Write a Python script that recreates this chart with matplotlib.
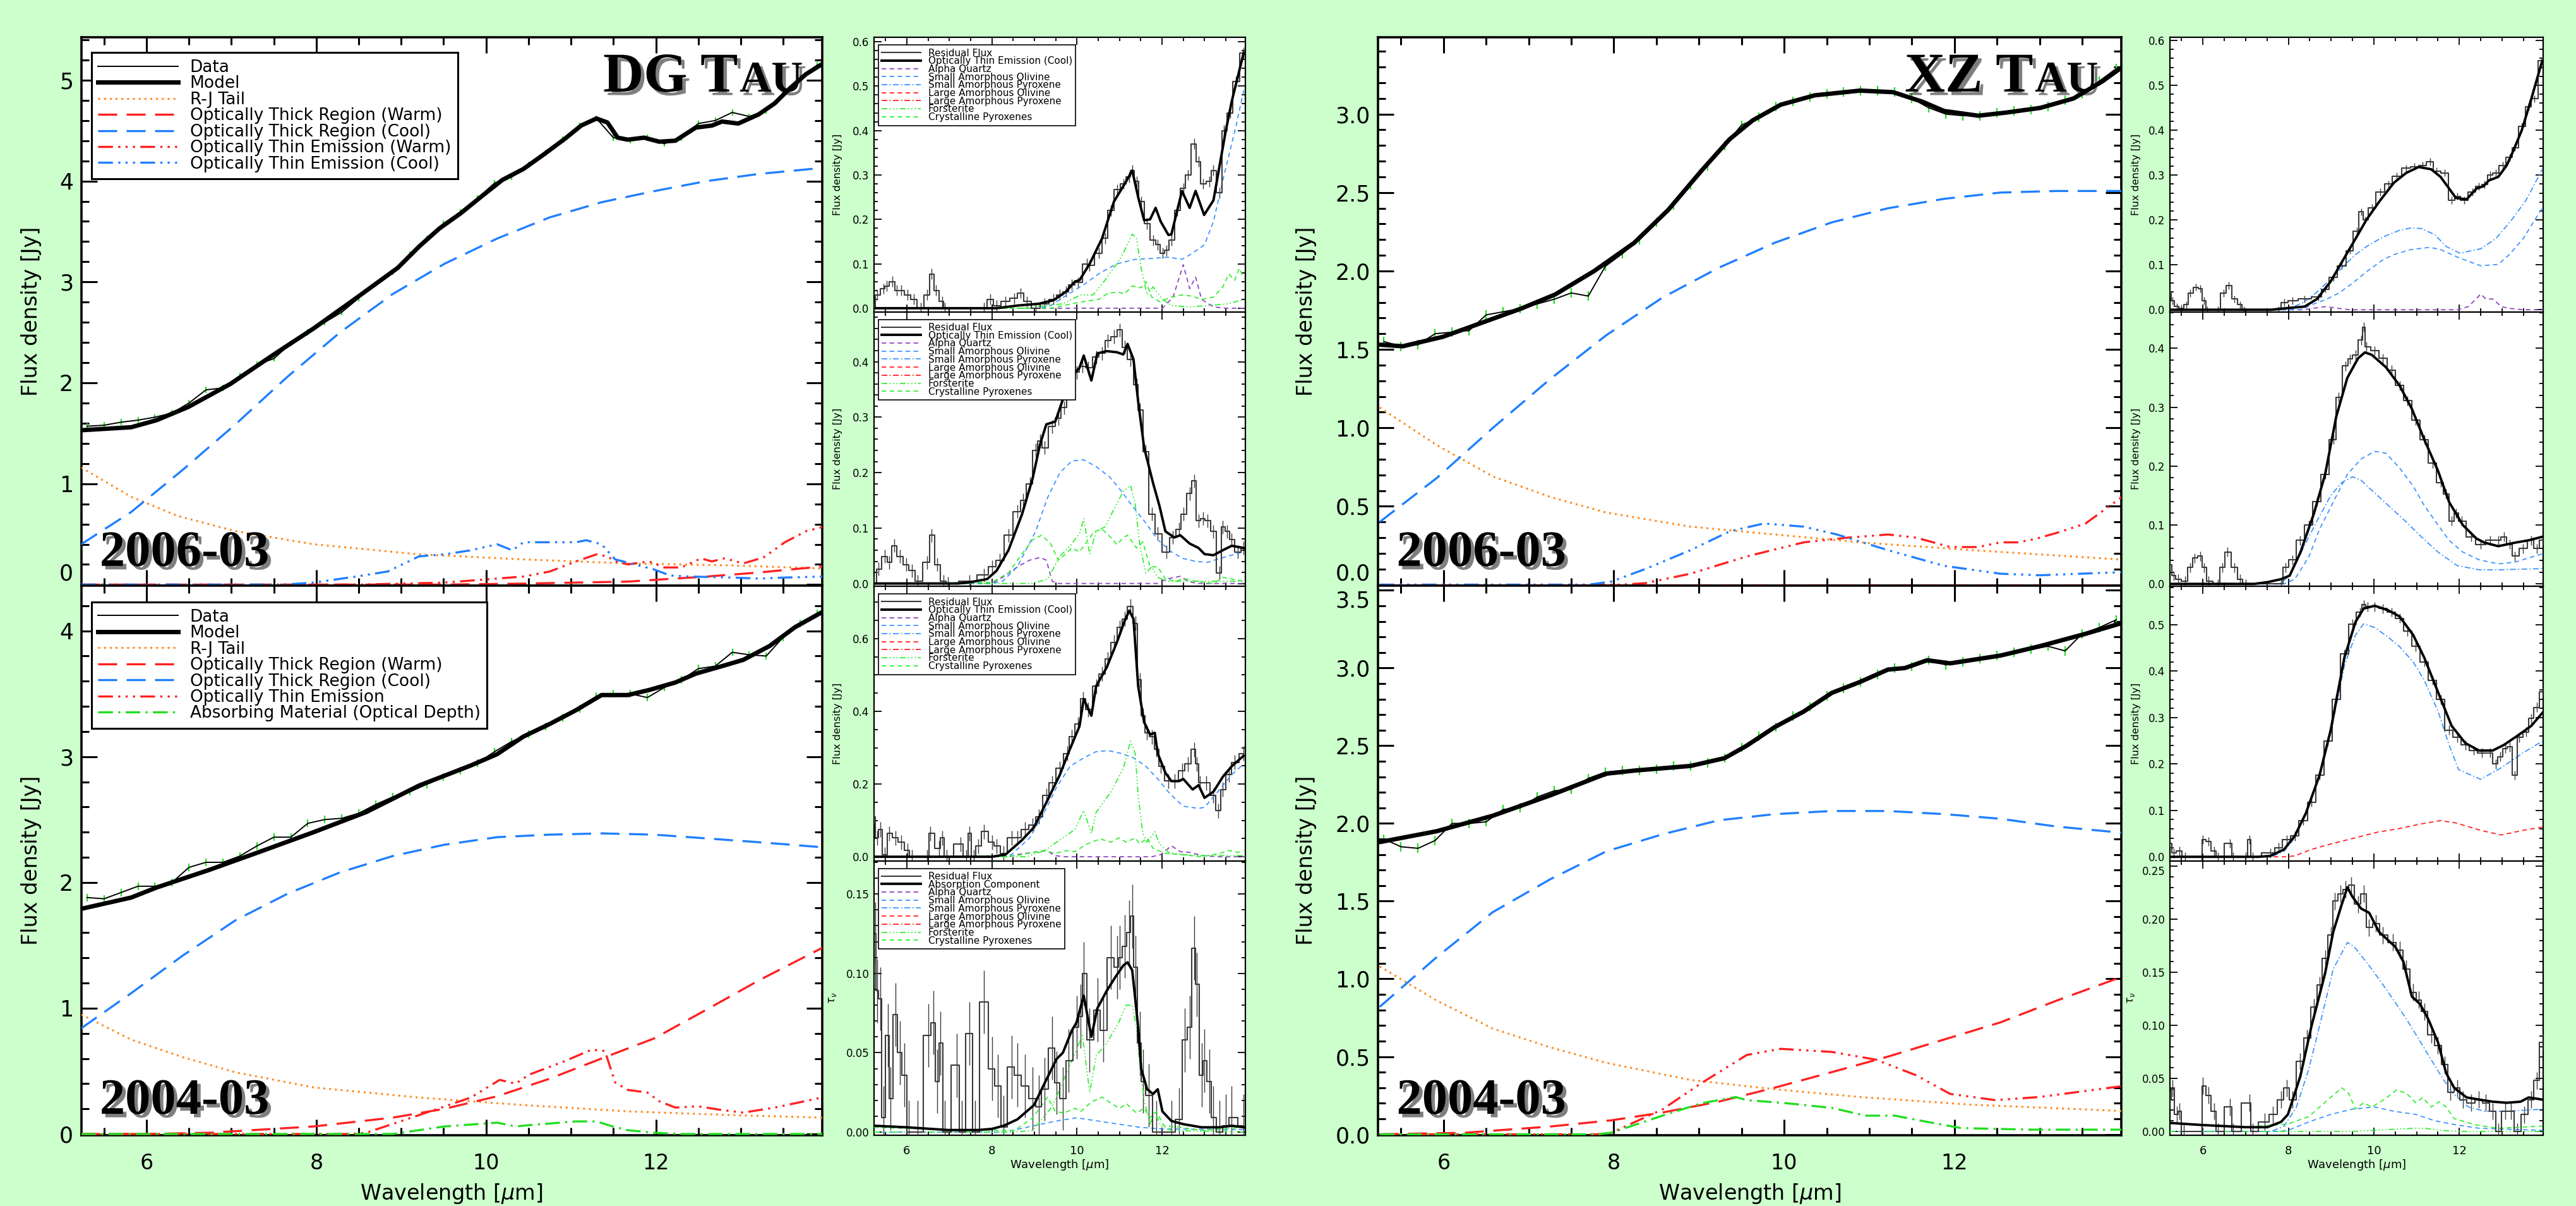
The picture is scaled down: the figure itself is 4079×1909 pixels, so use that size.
import numpy as np
import matplotlib
matplotlib.use("Agg")
import matplotlib.pyplot as plt
import matplotlib.patheffects as pe
from matplotlib.lines import Line2D
from matplotlib.ticker import MultipleLocator, FormatStrFormatter

plt.rcParams['font.family'] = ['DejaVu Sans']

W, H = 4079, 1909
BG = "#ccffcc"
XMIN, XMAX = 5.23, 13.96

# sampling grid of the plotted spectra in the large panels
GRID = [5.3, 5.5, 5.7, 5.9, 6.1, 6.3, 6.5, 6.7, 6.9, 7.1, 7.3, 7.5, 7.7, 7.9, 8.1, 8.3,
        8.5, 8.7, 8.9, 9.1, 9.3, 9.5, 9.7, 9.9, 10.1, 10.3, 10.5, 10.7, 10.9, 11.1, 11.3,
        11.5, 11.7, 11.9, 12.1, 12.3, 12.5, 12.7, 12.9, 13.1, 13.3, 13.5, 13.7, 13.9]

# ---- DG Tau 2006-03 ----
DG06_DATA = [1.57, 1.58, 1.61, 1.63, 1.66, 1.70, 1.80, 1.93, 1.95, 2.07, 2.18, 2.24, 2.39, 2.50,
             2.60, 2.70, 2.84, 2.98, 3.10, 3.27, 3.43, 3.58, 3.69, 3.83, 3.98, 4.04, 4.16, 4.28,
             4.41, 4.55, 4.62, 4.43, 4.40, 4.43, 4.37, 4.43, 4.57, 4.60, 4.68, 4.64, 4.70, 4.86,
             5.02, 5.15]
DG06_MODEL = [(5.23, 1.53), (5.82, 1.56), (6.12, 1.63), (6.49, 1.76), (6.99, 1.99), (7.48, 2.27),
              (7.97, 2.54), (8.47, 2.84), (8.96, 3.14), (9.21, 3.35), (9.45, 3.53), (9.70, 3.68),
              (9.95, 3.85), (10.19, 4.01), (10.44, 4.12), (10.69, 4.27), (10.93, 4.42), (11.12, 4.55),
              (11.30, 4.62), (11.43, 4.58), (11.55, 4.43), (11.67, 4.41), (11.86, 4.43), (12.04, 4.39),
              (12.23, 4.40), (12.47, 4.53), (12.66, 4.55), (12.78, 4.59), (12.97, 4.57), (13.21, 4.66),
              (13.40, 4.77), (13.58, 4.92), (13.77, 5.06), (13.96, 5.16)]
DG06_RJ = [(5.23, 1.16), (5.82, 0.87), (6.37, 0.68), (7.05, 0.53), (7.97, 0.40), (9.21, 0.30),
           (10.44, 0.25), (11.67, 0.21), (12.9, 0.19), (13.96, 0.16)]
DG06_THICK_WARM = [(5.23, 0.0), (9.5, 0.0), (10.44, 0.01), (11.67, 0.03), (12.6, 0.08),
                   (13.21, 0.12), (13.96, 0.18)]
DG06_THICK_COOL = [(5.23, 0.40), (5.82, 0.72), (6.43, 1.14), (7.05, 1.59), (7.66, 2.06), (8.28, 2.50),
                   (8.90, 2.88), (9.51, 3.18), (10.13, 3.43), (10.75, 3.64), (11.36, 3.79),
                   (11.98, 3.90), (12.6, 4.00), (13.21, 4.07), (13.96, 4.13)]
DG06_THIN_WARM = [(5.23, 0.0), (8.5, 0.0), (9.51, 0.02), (10.13, 0.06), (10.44, 0.08), (10.75, 0.13),
                  (11.06, 0.23), (11.30, 0.30), (11.43, 0.28), (11.52, 0.23), (11.67, 0.20),
                  (11.92, 0.23), (12.1, 0.17), (12.3, 0.17), (12.53, 0.26), (12.66, 0.23),
                  (12.81, 0.26), (13.03, 0.21), (13.27, 0.27), (13.52, 0.42), (13.77, 0.53),
                  (13.96, 0.57)]
DG06_THIN_COOL = [(5.23, 0.0), (7.6, 0.0), (7.97, 0.02), (8.47, 0.08), (8.84, 0.13), (9.21, 0.28),
                  (9.51, 0.30), (9.82, 0.34), (10.13, 0.40), (10.31, 0.34), (10.44, 0.42),
                  (10.75, 0.42), (11.06, 0.42), (11.18, 0.44), (11.36, 0.40), (11.52, 0.25),
                  (11.8, 0.19), (11.98, 0.15), (12.17, 0.09), (12.41, 0.08), (12.9, 0.07),
                  (13.21, 0.06), (13.52, 0.07), (13.96, 0.08)]

# ---- DG Tau 2004-03 ----
DG04_DATA = [1.88, 1.87, 1.92, 1.97, 1.97, 2.00, 2.12, 2.16, 2.16, 2.21, 2.29, 2.36, 2.36, 2.47,
             2.50, 2.51, 2.55, 2.62, 2.68, 2.72, 2.78, 2.84, 2.89, 2.95, 3.04, 3.12, 3.18, 3.24,
             3.31, 3.38, 3.48, 3.50, 3.50, 3.47, 3.55, 3.61, 3.70, 3.72, 3.83, 3.81, 3.80, 3.95,
             4.06, 4.14]
DG04_MODEL = [(5.23, 1.79), (5.82, 1.88), (6.12, 1.96), (6.74, 2.10), (7.36, 2.25), (7.97, 2.40),
              (8.59, 2.56), (9.21, 2.77), (9.82, 2.93), (10.13, 3.02), (10.44, 3.16), (10.75, 3.26),
              (11.06, 3.37), (11.36, 3.49), (11.67, 3.49), (11.92, 3.53), (12.23, 3.59), (12.47, 3.66),
              (12.78, 3.72), (13.03, 3.77), (13.34, 3.88), (13.64, 4.03), (13.96, 4.15)]
DG04_RJ = [(5.23, 0.95), (5.82, 0.75), (6.43, 0.61), (7.05, 0.49), (7.97, 0.37), (9.21, 0.29),
           (10.44, 0.23), (11.67, 0.18), (12.9, 0.15), (13.96, 0.13)]
DG04_THICK_WARM = [(5.23, 0.0), (6.0, 0.0), (6.74, 0.01), (7.97, 0.06), (8.9, 0.13), (9.51, 0.20),
                   (10.13, 0.30), (10.75, 0.44), (11.36, 0.60), (11.98, 0.76), (12.6, 0.99),
                   (13.21, 1.22), (13.96, 1.48)]
DG04_THICK_COOL = [(5.23, 0.84), (5.82, 1.12), (6.43, 1.42), (7.05, 1.70), (7.66, 1.91), (8.28, 2.08),
                   (8.90, 2.21), (9.51, 2.30), (10.13, 2.36), (10.75, 2.38), (11.36, 2.39),
                   (11.98, 2.38), (12.6, 2.35), (13.21, 2.32), (13.96, 2.28)]
DG04_THIN = [(5.23, 0.0), (8.4, 0.0), (8.59, 0.01), (9.21, 0.15), (9.82, 0.29), (10.16, 0.43),
             (10.35, 0.40), (10.5, 0.47), (10.93, 0.58), (11.24, 0.67), (11.4, 0.66), (11.52, 0.41),
             (11.67, 0.35), (11.9, 0.33), (12.04, 0.26), (12.23, 0.21), (12.5, 0.22), (12.78, 0.19),
             (13.03, 0.17), (13.4, 0.21), (13.96, 0.29)]
DG04_ABS = [(5.23, 0.0), (8.9, 0.0), (9.0, 0.01), (9.51, 0.06), (10.13, 0.09), (10.35, 0.06),
            (10.5, 0.07), (11.06, 0.10), (11.3, 0.10), (11.49, 0.06), (11.67, 0.03), (11.98, 0.01),
            (12.3, 0.0), (13.96, 0.0)]

# ---- XZ Tau 2006-03 ----
XZ06_DATA = [1.55, 1.52, 1.53, 1.60, 1.61, 1.62, 1.72, 1.74, 1.76, 1.79, 1.82, 1.86, 1.84, 2.03,
             2.11, 2.20, 2.31, 2.42, 2.55, 2.67, 2.80, 2.93, 2.98, 3.05, 3.08, 3.11, 3.13, 3.14,
             3.15, 3.15, 3.14, 3.10, 3.04, 3.00, 2.99, 2.99, 3.01, 3.02, 3.03, 3.05, 3.09, 3.13,
             3.21, 3.29]
XZ06_MODEL = [(5.25, 1.53), (5.52, 1.52), (5.99, 1.58), (6.45, 1.67), (6.91, 1.76), (7.31, 1.85),
              (7.77, 2.00), (8.24, 2.18), (8.64, 2.39), (9.03, 2.64), (9.36, 2.84), (9.63, 2.96),
              (9.96, 3.06), (10.36, 3.12), (10.89, 3.15), (11.28, 3.14), (11.62, 3.08), (11.88, 3.02),
              (12.28, 2.99), (12.61, 3.01), (13.01, 3.04), (13.40, 3.10), (13.74, 3.21), (13.97, 3.30)]
XZ06_RJ = [(5.25, 1.13), (5.92, 0.89), (6.58, 0.69), (7.25, 0.56), (7.91, 0.46), (8.9, 0.37),
           (9.89, 0.32), (10.89, 0.27), (12.21, 0.22), (13.97, 0.16)]
XZ06_THICK_WARM = [(5.25, 0.0), (13.97, 0.0)]
XZ06_THICK_COOL = [(5.25, 0.40), (5.92, 0.68), (6.58, 1.00), (7.25, 1.31), (7.91, 1.59), (8.57, 1.83),
                   (9.23, 2.02), (9.89, 2.18), (10.56, 2.31), (11.22, 2.40), (11.88, 2.46),
                   (12.54, 2.50), (13.2, 2.51), (13.97, 2.51)]
XZ06_THIN_WARM = [(5.25, 0.0), (8.1, 0.0), (8.37, 0.01), (8.9, 0.07), (9.56, 0.18), (10.23, 0.27),
                  (10.75, 0.30), (11.22, 0.32), (11.55, 0.30), (11.95, 0.24), (12.28, 0.24),
                  (12.54, 0.27), (12.74, 0.27), (12.94, 0.29), (13.2, 0.33), (13.54, 0.39),
                  (13.97, 0.56)]
XZ06_THIN_COOL = [(5.25, 0.0), (7.7, 0.0), (7.97, 0.02), (8.37, 0.10), (8.9, 0.22), (9.36, 0.34),
                  (9.76, 0.39), (10.23, 0.37), (10.62, 0.32), (11.22, 0.22), (11.88, 0.12),
                  (12.54, 0.07), (13.0, 0.06), (13.97, 0.08)]

# ---- XZ Tau 2004-03 ----
XZ04_DATA = [1.90, 1.85, 1.84, 1.89, 2.00, 2.00, 2.01, 2.09, 2.10, 2.17, 2.21, 2.22, 2.29, 2.33,
             2.34, 2.34, 2.35, 2.37, 2.37, 2.39, 2.42, 2.49, 2.56, 2.62, 2.69, 2.75, 2.82, 2.87,
             2.91, 2.96, 3.00, 3.01, 3.05, 3.02, 3.04, 3.06, 3.08, 3.10, 3.12, 3.14, 3.11, 3.22,
             3.26, 3.31]
XZ04_MODEL = [(5.25, 1.88), (5.92, 1.95), (6.58, 2.05), (7.25, 2.18), (7.91, 2.32), (8.24, 2.34),
              (8.9, 2.37), (9.3, 2.42), (9.56, 2.50), (9.89, 2.62), (10.23, 2.72), (10.56, 2.84),
              (10.89, 2.91), (11.22, 2.99), (11.42, 3.00), (11.68, 3.05), (11.95, 3.03), (12.54, 3.08),
              (13.0, 3.14), (13.54, 3.22), (13.97, 3.29)]
XZ04_RJ = [(5.25, 1.08), (5.92, 0.86), (6.58, 0.68), (7.25, 0.56), (7.91, 0.46), (8.9, 0.35),
           (9.89, 0.29), (10.89, 0.24), (12.21, 0.19), (13.97, 0.15)]
XZ04_THICK_WARM = [(5.25, 0.0), (6.25, 0.01), (7.25, 0.05), (7.97, 0.09), (8.57, 0.14), (9.23, 0.21),
                   (9.89, 0.30), (10.56, 0.40), (11.22, 0.50), (11.88, 0.61), (12.54, 0.72),
                   (13.2, 0.86), (13.9, 1.0)]
XZ04_THICK_COOL = [(5.25, 0.82), (5.92, 1.14), (6.58, 1.43), (7.25, 1.64), (7.91, 1.82), (8.57, 1.93),
                   (9.23, 2.02), (9.89, 2.06), (10.56, 2.08), (11.22, 2.08), (11.88, 2.06),
                   (12.54, 2.03), (13.2, 1.98), (13.97, 1.94)]
XZ04_THIN = [(5.25, 0.0), (7.8, 0.0), (7.97, 0.01), (8.57, 0.16), (9.03, 0.33), (9.56, 0.51),
             (9.96, 0.55), (10.56, 0.53), (11.08, 0.48), (11.55, 0.38), (11.95, 0.26), (12.48, 0.22),
             (13.0, 0.24), (13.97, 0.31)]
XZ04_ABS = [(5.25, 0.0), (7.8, 0.0), (7.97, 0.01), (8.57, 0.12), (9.03, 0.20), (9.43, 0.24),
            (9.56, 0.22), (10.03, 0.20), (10.56, 0.17), (10.96, 0.12), (11.3, 0.12), (11.68, 0.08),
            (12.08, 0.04), (12.9, 0.03), (13.97, 0.03)]

# ---- DG Tau residual panels (top to bottom) ----
DGS1_RESID = [(5.23, 0.0), (5.30, 0.03), (5.45, 0.044), (5.52, 0.05), (5.66, 0.06), (5.77, 0.04),
              (5.87, 0.04), (6.01, 0.03), (6.16, 0.02), (6.33, 0.0), (6.48, 0.03), (6.58, 0.077),
              (6.69, 0.04), (6.83, 0.015), (6.90, 0.0), (7.82, 0.0), (7.96, 0.02), (8.11, 0.006),
              (8.32, 0.015), (8.53, 0.022), (8.67, 0.034), (8.82, 0.015), (9.03, 0.0), (9.24, 0.01),
              (9.45, 0.02), (9.60, 0.03), (9.74, 0.037), (9.88, 0.053), (10.02, 0.058), (10.23, 0.10),
              (10.30, 0.096), (10.52, 0.124), (10.66, 0.157), (10.80, 0.22), (10.94, 0.267),
              (11.09, 0.28), (11.23, 0.295), (11.30, 0.31), (11.40, 0.285), (11.51, 0.24),
              (11.65, 0.19), (11.79, 0.153), (11.90, 0.143), (12.01, 0.124), (12.11, 0.13),
              (12.22, 0.153), (12.36, 0.22), (12.50, 0.27), (12.61, 0.30), (12.75, 0.37),
              (12.86, 0.33), (12.96, 0.28), (13.11, 0.285), (13.21, 0.31), (13.35, 0.26),
              (13.46, 0.40), (13.60, 0.44), (13.74, 0.51), (13.92, 0.575)]
DGS1_MODEL = [(5.23, 0.0), (8.11, 0.0), (8.60, 0.006), (9.10, 0.01), (9.45, 0.018), (9.74, 0.037),
              (9.95, 0.06), (10.06, 0.063), (10.30, 0.10), (10.59, 0.157), (10.87, 0.24),
              (11.16, 0.286), (11.30, 0.31), (11.44, 0.25), (11.58, 0.198), (11.72, 0.20),
              (11.85, 0.226), (11.97, 0.195), (12.15, 0.165), (12.22, 0.166), (12.47, 0.264),
              (12.65, 0.226), (12.79, 0.264), (12.99, 0.21), (13.21, 0.243), (13.50, 0.40),
              (13.64, 0.466), (13.92, 0.575)]
DGS1_AQ = [(5.23, 0.0), (12.01, 0.0), (12.26, 0.025), (12.50, 0.098), (12.65, 0.044), (12.79, 0.07),
           (12.93, 0.02), (13.21, 0.003), (13.5, 0.0), (13.96, 0.0)]
DGS1_SAO = [(5.23, 0.0), (9.1, 0.0), (9.38, 0.006), (9.77, 0.03), (10.16, 0.053), (10.55, 0.08),
            (10.94, 0.10), (11.37, 0.11), (11.76, 0.112), (12.15, 0.115), (12.47, 0.11),
            (12.72, 0.124), (13.0, 0.143), (13.21, 0.195), (13.46, 0.30), (13.74, 0.41), (13.92, 0.49)]
DGS1_FORS = [(5.23, 0.0), (8.8, 0.0), (8.96, 0.003), (9.67, 0.01), (10.09, 0.03), (10.38, 0.03),
             (10.66, 0.063), (10.94, 0.10), (11.09, 0.124), (11.30, 0.167), (11.40, 0.157),
             (11.51, 0.09), (11.65, 0.03), (11.79, 0.048), (12.01, 0.02), (12.22, 0.006),
             (12.65, 0.003), (13.07, 0.006), (13.57, 0.01), (13.92, 0.02)]
DGS1_CPYR = [(5.23, 0.0), (9.2, 0.0), (9.45, 0.001), (9.88, 0.01), (10.16, 0.015), (10.52, 0.02),
             (10.73, 0.034), (10.98, 0.036), (11.12, 0.032), (11.30, 0.05), (11.51, 0.046),
             (11.62, 0.06), (11.76, 0.025), (11.94, 0.015), (12.22, 0.025), (12.47, 0.03),
             (12.72, 0.027), (12.93, 0.02), (13.21, 0.025), (13.43, 0.048), (13.57, 0.077),
             (13.71, 0.063), (13.82, 0.09), (13.92, 0.067)]

DGS2_RESID = [(5.23, 0.0), (5.34, 0.026), (5.48, 0.049), (5.59, 0.038), (5.70, 0.068), (5.84, 0.049),
              (5.98, 0.034), (6.12, 0.023), (6.26, 0.004), (6.48, 0.038), (6.58, 0.087), (6.72, 0.034),
              (6.87, 0.004), (6.97, 0.0), (7.47, 0.004), (7.82, 0.015), (8.0, 0.03), (8.18, 0.042),
              (8.39, 0.087), (8.60, 0.13), (8.74, 0.15), (8.89, 0.18), (9.03, 0.24), (9.13, 0.257),
              (9.24, 0.245), (9.42, 0.283), (9.56, 0.298), (9.70, 0.317), (9.81, 0.362), (9.99, 0.381),
              (10.13, 0.392), (10.27, 0.389), (10.45, 0.408), (10.59, 0.415), (10.73, 0.438),
              (10.87, 0.445), (11.01, 0.457), (11.12, 0.426), (11.26, 0.404), (11.40, 0.358),
              (11.48, 0.313), (11.62, 0.238), (11.76, 0.125), (11.90, 0.09), (12.11, 0.057),
              (12.26, 0.083), (12.40, 0.098), (12.50, 0.125), (12.65, 0.162), (12.75, 0.185),
              (12.86, 0.113), (12.96, 0.117), (13.07, 0.113), (13.21, 0.094), (13.35, 0.019),
              (13.43, 0.102), (13.53, 0.094), (13.64, 0.079), (13.78, 0.057), (13.92, 0.064)]
DGS2_MODEL = [(5.23, 0.0), (7.2, 0.0), (7.47, 0.002), (7.89, 0.008), (8.11, 0.023), (8.39, 0.06),
              (8.71, 0.125), (8.96, 0.19), (9.13, 0.25), (9.28, 0.287), (9.49, 0.292), (9.67, 0.332),
              (9.88, 0.374), (10.06, 0.389), (10.16, 0.411), (10.34, 0.366), (10.48, 0.415),
              (10.70, 0.419), (10.94, 0.417), (11.09, 0.413), (11.19, 0.432), (11.33, 0.404),
              (11.44, 0.328), (11.58, 0.245), (11.79, 0.181), (11.94, 0.14), (12.08, 0.094),
              (12.29, 0.083), (12.43, 0.087), (12.65, 0.072), (12.86, 0.064), (13.0, 0.053),
              (13.21, 0.051), (13.43, 0.06), (13.64, 0.068), (13.92, 0.064)]
DGS2_AQ = [(5.23, 0.0), (8.0, 0.0), (8.25, 0.011), (8.60, 0.03), (8.89, 0.042), (9.13, 0.047),
           (9.28, 0.042), (9.42, 0.004), (9.56, 0.0), (11.90, 0.0), (12.11, 0.008), (12.43, 0.013),
           (12.61, 0.004), (12.82, 0.0), (13.96, 0.0)]
DGS2_SAO = [(5.23, 0.0), (8.0, 0.0), (8.25, 0.004), (8.60, 0.03), (9.03, 0.094), (9.31, 0.155),
            (9.60, 0.20), (9.88, 0.221), (10.16, 0.223), (10.45, 0.211), (10.77, 0.192), (11.01, 0.17),
            (11.30, 0.14), (11.62, 0.109), (11.90, 0.079), (12.22, 0.057), (12.50, 0.045),
            (12.79, 0.04), (13.07, 0.038), (13.35, 0.045), (13.92, 0.057)]
DGS2_FORS = [(5.23, 0.0), (8.96, 0.0), (9.31, 0.008), (9.60, 0.049), (9.84, 0.068), (10.06, 0.09),
             (10.16, 0.117), (10.30, 0.053), (10.45, 0.094), (10.66, 0.102), (10.91, 0.14),
             (11.09, 0.166), (11.26, 0.177), (11.37, 0.143), (11.48, 0.068), (11.62, 0.019),
             (11.76, 0.03), (11.90, 0.011), (12.11, 0.004), (13.92, 0.004)]
DGS2_CPYR = [(5.23, 0.0), (8.0, 0.002), (8.39, 0.019), (8.67, 0.049), (8.96, 0.079), (9.17, 0.087),
             (9.38, 0.072), (9.56, 0.042), (9.67, 0.049), (9.88, 0.064), (10.06, 0.057),
             (10.23, 0.075), (10.41, 0.094), (10.59, 0.098), (10.80, 0.083), (10.94, 0.07),
             (11.09, 0.083), (11.19, 0.087), (11.40, 0.064), (11.55, 0.075), (11.72, 0.03),
             (11.90, 0.03), (12.08, 0.008), (12.33, 0.004), (12.50, 0.009), (12.79, 0.004),
             (13.21, 0.0), (13.43, 0.011), (13.92, 0.004)]

DGS3_RESID = [(5.23, 0.11), (5.30, 0.052), (5.38, 0.075), (5.48, 0.006), (5.59, 0.064), (5.73, 0.052),
              (5.87, 0.04), (6.01, 0.017), (6.12, 0.0), (6.48, 0.0), (6.55, 0.064), (6.76, 0.023),
              (6.83, 0.052), (6.94, 0.0), (7.26, 0.035), (7.40, 0.0), (7.47, 0.064), (7.57, 0.0),
              (7.68, 0.029), (7.82, 0.069), (8.0, 0.04), (8.11, 0.029), (8.28, 0.009), (8.46, 0.052),
              (8.60, 0.052), (8.78, 0.075), (8.96, 0.087), (9.10, 0.11), (9.28, 0.168), (9.42, 0.203),
              (9.60, 0.243), (9.77, 0.284), (9.88, 0.33), (10.02, 0.365), (10.15, 0.434),
              (10.27, 0.405), (10.45, 0.469), (10.59, 0.503), (10.73, 0.544), (10.87, 0.59),
              (11.01, 0.631), (11.12, 0.654), (11.26, 0.689), (11.37, 0.642), (11.48, 0.486),
              (11.55, 0.388), (11.65, 0.341), (11.76, 0.33), (11.87, 0.295), (11.97, 0.249),
              (12.15, 0.208), (12.29, 0.208), (12.47, 0.237), (12.61, 0.255), (12.75, 0.295),
              (12.82, 0.255), (12.89, 0.203), (13.04, 0.203), (13.21, 0.168), (13.32, 0.127),
              (13.43, 0.185), (13.57, 0.226), (13.71, 0.26), (13.92, 0.284)]
DGS3_MODEL = [(5.23, 0.0), (8.0, 0.0), (8.32, 0.006), (8.71, 0.046), (8.99, 0.081), (9.31, 0.156),
              (9.60, 0.226), (9.81, 0.289), (10.06, 0.359), (10.16, 0.434), (10.34, 0.388),
              (10.45, 0.469), (10.70, 0.521), (10.94, 0.59), (11.12, 0.648), (11.23, 0.677),
              (11.33, 0.654), (11.44, 0.469), (11.58, 0.37), (11.72, 0.336), (11.83, 0.341),
              (11.90, 0.284), (12.08, 0.231), (12.22, 0.208), (12.40, 0.208), (12.50, 0.214),
              (12.72, 0.185), (12.86, 0.197), (13.0, 0.162), (13.21, 0.179), (13.43, 0.22),
              (13.64, 0.249), (13.92, 0.278)]
DGS3_AQ = [(5.23, 0.0), (8.4, 0.0), (8.60, 0.006), (8.96, 0.012), (9.28, 0.017), (9.49, 0.003),
           (9.7, 0.0), (11.76, 0.0), (11.97, 0.006), (12.22, 0.03), (12.43, 0.014), (12.65, 0.012),
           (12.96, 0.003), (13.3, 0.0), (13.96, 0.0)]
DGS3_SAO = [(5.23, 0.0), (8.1, 0.0), (8.46, 0.006), (8.89, 0.052), (9.28, 0.133), (9.52, 0.191),
            (9.84, 0.249), (10.16, 0.272), (10.45, 0.289), (10.73, 0.292), (11.05, 0.284),
            (11.33, 0.272), (11.62, 0.249), (11.90, 0.214), (12.18, 0.174), (12.50, 0.139),
            (12.86, 0.133), (13.0, 0.136), (13.28, 0.174), (13.64, 0.226), (13.92, 0.255)]
DGS3_FORS = [(5.23, 0.0), (8.82, 0.0), (9.24, 0.017), (9.67, 0.052), (9.95, 0.075), (10.16, 0.127),
             (10.34, 0.064), (10.45, 0.122), (10.80, 0.179), (11.09, 0.243), (11.26, 0.318),
             (11.37, 0.284), (11.44, 0.168), (11.55, 0.064), (11.65, 0.04), (11.83, 0.069),
             (11.94, 0.035), (12.15, 0.012), (12.50, 0.006), (12.93, 0.003), (13.92, 0.003)]
DGS3_CPYR = [(5.23, 0.0), (8.57, 0.003), (8.96, 0.012), (9.24, 0.017), (9.49, 0.009), (9.74, 0.017),
             (9.95, 0.014), (10.23, 0.035), (10.55, 0.049), (10.80, 0.04), (10.98, 0.052),
             (11.16, 0.04), (11.37, 0.052), (11.48, 0.035), (11.65, 0.052), (11.79, 0.023),
             (12.08, 0.009), (12.43, 0.006), (12.93, 0.0), (13.35, 0.009), (13.57, 0.017),
             (13.78, 0.012), (13.92, 0.017)]

DGS4_RESID = [(5.26, 0.125), (5.30, 0.089), (5.38, 0.084), (5.45, 0.009), (5.55, 0.061), (5.62, 0.021),
              (5.73, 0.074), (5.84, 0.05), (5.94, 0.036), (6.05, 0.0), (6.26, 0.0), (6.51, 0.061),
              (6.62, 0.069), (6.72, 0.032), (6.79, 0.056), (6.90, 0.0), (7.18, 0.042), (7.29, 0.0),
              (7.47, 0.062), (7.61, 0.0), (7.82, 0.082), (8.0, 0.04), (8.14, 0.029), (8.28, 0.003),
              (8.46, 0.041), (8.60, 0.036), (8.78, 0.029), (8.96, 0.021), (9.10, 0.016), (9.24, 0.027),
              (9.42, 0.053), (9.52, 0.031), (9.67, 0.021), (9.81, 0.045), (9.99, 0.066), (10.09, 0.073),
              (10.16, 0.1), (10.30, 0.058), (10.48, 0.077), (10.62, 0.064), (10.80, 0.11),
              (10.94, 0.104), (11.01, 0.11), (11.12, 0.117), (11.23, 0.126), (11.30, 0.136),
              (11.37, 0.104), (11.48, 0.056), (11.55, 0.032), (11.69, 0.023), (11.87, 0.0),
              (12.22, 0.0), (12.40, 0.008), (12.54, 0.058), (12.65, 0.066), (12.75, 0.116),
              (12.82, 0.093), (12.93, 0.036), (13.0, 0.045), (13.11, 0.032), (13.21, 0.009),
              (13.35, 0.0), (13.50, 0.004), (13.64, 0.009), (13.92, 0.004)]
DGS4_MODEL = [(5.23, 0.004), (6.0, 0.003), (6.97, 0.0013), (7.68, 0.0013), (8.0, 0.002), (8.28, 0.004),
              (8.60, 0.008), (8.99, 0.017), (9.28, 0.033), (9.52, 0.046), (9.67, 0.05), (9.88, 0.064),
              (9.99, 0.069), (10.16, 0.086), (10.34, 0.06), (10.48, 0.078), (10.70, 0.089),
              (10.91, 0.098), (11.09, 0.105), (11.19, 0.107), (11.30, 0.102), (11.44, 0.066),
              (11.51, 0.04), (11.65, 0.027), (11.79, 0.024), (11.90, 0.027), (12.01, 0.013),
              (12.22, 0.007), (12.50, 0.005), (12.93, 0.003), (13.35, 0.003), (13.64, 0.004),
              (13.92, 0.003)]
DGS4_SAO = [(5.23, 0.0), (8.3, 0.0), (8.99, 0.004), (9.52, 0.007), (9.99, 0.009), (10.48, 0.007),
            (10.98, 0.005), (11.48, 0.003), (11.97, 0.002), (13.92, 0.0015)]
DGS4_FORS = [(5.23, 0.0), (8.5, 0.0), (8.96, 0.001), (9.42, 0.016), (9.63, 0.029), (9.88, 0.045),
             (10.13, 0.061), (10.30, 0.025), (10.45, 0.048), (10.70, 0.056), (10.98, 0.069),
             (11.16, 0.08), (11.30, 0.08), (11.40, 0.066), (11.48, 0.042), (11.58, 0.02),
             (11.72, 0.005), (11.83, 0.013), (11.97, 0.004), (12.22, 0.001), (13.92, 0.0)]
DGS4_CPYR = [(5.23, 0.003), (6.97, 0.0015), (8.53, 0.001), (8.96, 0.009), (9.31, 0.022), (9.49, 0.013),
             (9.70, 0.012), (9.95, 0.015), (10.09, 0.013), (10.34, 0.019), (10.59, 0.022),
             (10.87, 0.017), (11.01, 0.015), (11.16, 0.018), (11.40, 0.012), (11.58, 0.015),
             (11.72, 0.009), (11.87, 0.013), (12.04, 0.004), (12.43, 0.003), (12.93, 0.001),
             (13.43, 0.002), (13.92, 0.003)]

# ---- XZ Tau residual panels (top to bottom) ----
XZS1_RESID = [(5.23, 0.037), (5.29, 0.02), (5.39, 0.007), (5.49, 0.003), (5.61, 0.011), (5.71, 0.037),
              (5.84, 0.05), (5.94, 0.047), (6.03, 0.02), (6.10, 0.0), (6.35, 0.0), (6.48, 0.037),
              (6.61, 0.054), (6.74, 0.024), (6.87, 0.011), (6.96, 0.0), (7.77, 0.0), (7.90, 0.016),
              (8.09, 0.02), (8.38, 0.024), (8.70, 0.028), (8.86, 0.046), (9.05, 0.072), (9.25, 0.098),
              (9.44, 0.132), (9.60, 0.175), (9.70, 0.218), (9.79, 0.2), (9.95, 0.227), (10.15, 0.262),
              (10.34, 0.28), (10.53, 0.298), (10.76, 0.315), (10.95, 0.319), (11.14, 0.322),
              (11.31, 0.33), (11.47, 0.309), (11.66, 0.305), (11.82, 0.244), (11.95, 0.253),
              (12.11, 0.244), (12.30, 0.262), (12.46, 0.275), (12.59, 0.279), (12.72, 0.3),
              (12.85, 0.305), (13.01, 0.322), (13.17, 0.339), (13.30, 0.361), (13.46, 0.408),
              (13.62, 0.452), (13.75, 0.47), (13.94, 0.555)]
XZS1_MODEL = [(5.23, 0.0), (7.6, 0.0), (7.90, 0.003), (8.38, 0.007), (8.67, 0.024), (8.99, 0.063),
              (9.25, 0.106), (9.57, 0.158), (9.83, 0.201), (10.15, 0.244), (10.47, 0.283),
              (10.76, 0.305), (11.05, 0.318), (11.34, 0.313), (11.56, 0.296), (11.76, 0.27),
              (11.92, 0.249), (12.17, 0.246), (12.40, 0.27), (12.56, 0.275), (12.69, 0.288),
              (12.91, 0.296), (13.11, 0.322), (13.27, 0.356), (13.46, 0.4), (13.68, 0.469),
              (13.94, 0.555)]
XZS1_AQ = [(5.23, 0.0), (8.35, 0.0), (8.86, 0.007), (9.18, 0.003), (9.44, 0.0), (11.95, 0.0),
           (12.21, 0.007), (12.50, 0.035), (12.62, 0.024), (12.78, 0.024), (12.98, 0.007),
           (13.17, 0.003), (13.5, 0.0), (13.96, 0.0)]
XZS1_SAO = [(5.23, 0.0), (8.3, 0.0), (8.54, 0.011), (8.86, 0.022), (9.18, 0.037), (9.50, 0.059),
            (9.83, 0.085), (10.21, 0.111), (10.47, 0.123), (10.86, 0.134), (11.31, 0.139),
            (11.56, 0.134), (12.01, 0.115), (12.50, 0.098), (12.91, 0.101), (13.17, 0.123),
            (13.49, 0.158), (13.94, 0.227)]
XZS1_SAP = [(5.23, 0.0), (7.8, 0.0), (8.03, 0.003), (8.35, 0.016), (8.64, 0.037), (8.93, 0.063),
            (9.25, 0.093), (9.57, 0.123), (9.83, 0.141), (10.21, 0.162), (10.60, 0.177),
            (10.86, 0.182), (11.11, 0.181), (11.43, 0.167), (11.69, 0.141), (12.01, 0.126),
            (12.50, 0.136), (12.85, 0.158), (13.23, 0.201), (13.56, 0.244), (13.94, 0.313)]

XZS2_RESID = [(5.23, 0.033), (5.32, 0.014), (5.42, 0.008), (5.58, 0.005), (5.71, 0.028), (5.81, 0.044),
              (5.94, 0.047), (6.03, 0.028), (6.13, 0.005), (6.35, 0.0), (6.45, 0.028), (6.58, 0.054),
              (6.74, 0.028), (6.87, 0.008), (7.0, 0.0), (7.83, 0.0), (7.93, 0.028), (8.09, 0.041),
              (8.28, 0.074), (8.48, 0.1), (8.67, 0.14), (8.86, 0.186), (9.05, 0.245), (9.18, 0.317),
              (9.34, 0.37), (9.44, 0.382), (9.57, 0.389), (9.70, 0.414), (9.76, 0.436), (9.83, 0.403),
              (10.02, 0.396), (10.21, 0.383), (10.41, 0.363), (10.60, 0.337), (10.79, 0.311),
              (10.98, 0.278), (11.18, 0.245), (11.37, 0.205), (11.56, 0.172), (11.69, 0.153),
              (11.82, 0.107), (11.92, 0.12), (12.05, 0.107), (12.27, 0.08), (12.50, 0.067),
              (12.72, 0.074), (12.91, 0.074), (13.04, 0.08), (13.17, 0.067), (13.30, 0.047),
              (13.49, 0.06), (13.68, 0.074), (13.81, 0.06), (13.94, 0.074)]
XZS2_MODEL = [(5.23, 0.0), (7.2, 0.0), (7.51, 0.003), (7.83, 0.008), (8.03, 0.014), (8.28, 0.053),
              (8.60, 0.12), (8.86, 0.186), (9.12, 0.284), (9.38, 0.35), (9.63, 0.383), (9.79, 0.393),
              (9.95, 0.389), (10.28, 0.368), (10.60, 0.337), (10.89, 0.297), (11.18, 0.245),
              (11.50, 0.192), (11.76, 0.139), (12.08, 0.1), (12.40, 0.077), (12.59, 0.07),
              (12.91, 0.064), (13.30, 0.07), (13.62, 0.074), (13.94, 0.08)]
XZS2_SAO = [(5.23, 0.0), (7.9, 0.0), (8.15, 0.008), (8.48, 0.046), (8.73, 0.093), (9.05, 0.139),
            (9.38, 0.186), (9.70, 0.212), (10.02, 0.225), (10.28, 0.222), (10.60, 0.197),
            (10.92, 0.166), (11.18, 0.133), (11.50, 0.1), (11.76, 0.074), (12.08, 0.054),
            (12.46, 0.041), (12.91, 0.034), (13.30, 0.037), (13.94, 0.051)]
XZS2_SAP = [(5.23, 0.0), (7.8, 0.0), (8.03, 0.014), (8.35, 0.061), (8.67, 0.107), (8.99, 0.15),
            (9.25, 0.172), (9.50, 0.182), (9.70, 0.176), (9.95, 0.159), (10.34, 0.133),
            (10.73, 0.107), (11.11, 0.08), (11.50, 0.054), (11.95, 0.031), (12.46, 0.024),
            (12.98, 0.024), (13.94, 0.026)]

XZS3_RESID = [(5.23, 0.029), (5.32, 0.008), (5.45, 0.012), (5.58, 0.0), (5.97, 0.0), (6.0, 0.037),
              (6.13, 0.033), (6.26, 0.012), (6.35, 0.0), (6.64, 0.029), (6.71, 0.0), (7.0, 0.0),
              (7.09, 0.037), (7.16, 0.0), (7.58, 0.008), (7.77, 0.02), (7.96, 0.037), (8.15, 0.045),
              (8.35, 0.078), (8.54, 0.118), (8.73, 0.176), (8.93, 0.249), (9.12, 0.339), (9.31, 0.437),
              (9.50, 0.502), (9.67, 0.527), (9.76, 0.543), (9.86, 0.539), (10.02, 0.539),
              (10.21, 0.535), (10.41, 0.527), (10.60, 0.514), (10.79, 0.486), (10.98, 0.453),
              (11.18, 0.42), (11.37, 0.38), (11.56, 0.339), (11.76, 0.273), (11.95, 0.257),
              (12.14, 0.241), (12.33, 0.229), (12.53, 0.224), (12.72, 0.224), (12.85, 0.2),
              (12.95, 0.216), (13.07, 0.233), (13.17, 0.237), (13.30, 0.176), (13.40, 0.257),
              (13.56, 0.269), (13.68, 0.298), (13.81, 0.322), (13.94, 0.355)]
XZS3_MODEL = [(5.23, 0.0), (7.3, 0.0), (7.58, 0.002), (7.90, 0.016), (8.15, 0.045), (8.41, 0.094),
              (8.73, 0.176), (8.99, 0.273), (9.31, 0.429), (9.57, 0.506), (9.76, 0.535),
              (10.02, 0.541), (10.34, 0.531), (10.60, 0.518), (10.92, 0.478), (11.18, 0.429),
              (11.50, 0.355), (11.82, 0.282), (12.14, 0.245), (12.46, 0.229), (12.78, 0.229),
              (13.04, 0.241), (13.36, 0.261), (13.68, 0.282), (13.94, 0.31)]
XZS3_SAP = [(5.23, 0.0), (7.6, 0.0), (7.90, 0.012), (8.15, 0.041), (8.41, 0.094), (8.73, 0.176),
            (8.99, 0.265), (9.31, 0.412), (9.57, 0.478), (9.76, 0.502), (10.02, 0.494),
            (10.34, 0.473), (10.60, 0.453), (10.92, 0.42), (11.18, 0.38), (11.50, 0.314),
            (11.76, 0.241), (11.98, 0.188), (12.50, 0.167), (12.98, 0.192), (13.49, 0.224),
            (13.94, 0.249)]
XZS3_LAO = [(5.23, 0.0), (7.9, 0.0), (8.15, 0.002), (8.54, 0.016), (9.05, 0.029), (9.57, 0.041),
            (10.08, 0.053), (10.60, 0.061), (11.11, 0.071), (11.56, 0.078), (11.92, 0.073),
            (12.50, 0.057), (12.98, 0.047), (13.49, 0.057), (13.94, 0.064)]

XZS4_RESID = [(5.23, 0.03), (5.29, 0.041), (5.39, 0.016), (5.45, 0.019), (5.55, 0.0), (5.97, 0.0),
              (6.0, 0.043), (6.13, 0.034), (6.26, 0.019), (6.35, 0.0), (6.64, 0.023), (6.71, 0.0),
              (7.09, 0.027), (7.16, 0.0), (7.45, 0.009), (7.64, 0.016), (7.83, 0.03), (7.96, 0.041),
              (8.09, 0.03), (8.28, 0.066), (8.44, 0.088), (8.60, 0.117), (8.73, 0.138), (8.86, 0.163),
              (8.99, 0.185), (9.09, 0.217), (9.22, 0.224), (9.34, 0.228), (9.47, 0.232), (9.63, 0.214),
              (9.76, 0.224), (9.89, 0.192), (10.05, 0.196), (10.21, 0.185), (10.44, 0.178),
              (10.60, 0.171), (10.76, 0.153), (10.92, 0.131), (11.05, 0.124), (11.18, 0.113),
              (11.34, 0.091), (11.50, 0.081), (11.66, 0.063), (11.79, 0.037), (11.95, 0.041),
              (12.08, 0.03), (12.27, 0.027), (12.46, 0.03), (12.62, 0.027), (12.78, 0.019),
              (12.91, 0.0), (13.07, 0.019), (13.20, 0.019), (13.36, 0.0), (13.52, 0.016),
              (13.68, 0.03), (13.81, 0.048), (13.94, 0.084)]
XZS4_MODEL = [(5.23, 0.008), (6.0, 0.006), (7.0, 0.004), (7.51, 0.004), (7.83, 0.009), (7.99, 0.016),
              (8.28, 0.052), (8.54, 0.099), (8.86, 0.149), (9.05, 0.188), (9.25, 0.214), (9.38, 0.23),
              (9.50, 0.221), (9.70, 0.21), (9.89, 0.206), (10.12, 0.188), (10.31, 0.181),
              (10.50, 0.174), (10.69, 0.16), (10.89, 0.127), (11.08, 0.12), (11.27, 0.106),
              (11.50, 0.084), (11.69, 0.055), (11.88, 0.041), (12.17, 0.032), (12.46, 0.03),
              (12.78, 0.028), (13.11, 0.027), (13.43, 0.028), (13.62, 0.032), (13.94, 0.03)]
XZS4_SAO = [(5.23, 0.0), (7.8, 0.0), (7.99, 0.001), (8.48, 0.009), (8.99, 0.016), (9.50, 0.021),
            (10.02, 0.023), (10.47, 0.019), (10.98, 0.016), (11.43, 0.01), (11.95, 0.006),
            (12.46, 0.003), (13.94, 0.001)]
XZS4_SAP = [(5.23, 0.0), (7.6, 0.0), (7.90, 0.005), (8.19, 0.023), (8.48, 0.059), (8.77, 0.106),
            (9.05, 0.153), (9.38, 0.178), (9.54, 0.174), (9.95, 0.153), (10.34, 0.131),
            (10.76, 0.106), (11.14, 0.081), (11.53, 0.055), (11.82, 0.037), (12.21, 0.023),
            (12.59, 0.019), (13.11, 0.019), (13.94, 0.021)]
XZS4_FORS = [(5.23, 0.0), (9.50, 0.0), (10.47, 0.002), (10.98, 0.003), (11.18, 0.003), (11.56, 0.001),
             (12.0, 0.0), (13.96, 0.0)]
XZS4_CPYR = [(5.23, 0.008), (7.0, 0.004), (7.99, 0.007), (8.48, 0.014), (8.93, 0.03), (9.25, 0.041),
             (9.41, 0.036), (9.57, 0.021), (9.76, 0.027), (9.95, 0.023), (10.24, 0.03), (10.53, 0.039),
             (10.76, 0.036), (10.98, 0.027), (11.14, 0.032), (11.34, 0.023), (11.53, 0.028),
             (11.69, 0.023), (11.88, 0.012), (12.40, 0.006), (12.91, 0.003), (13.94, 0.005)]

BIG_ERR = 0.03
DG_RESID_ERR = [0.012, 0.012, 0.02, 0.02]
XZ_RESID_ERR = [0.008, 0.008, 0.01, 0.008]

# colours and IDL-like line styles
ORANGE = "#ff8a1f"
RED = "#ff2020"
BLUE = "#1f7fff"
GREEN = "#22dd22"
PURPLE = "#8e44c0"
SBLUE = "#3d94ff"
SGREEN = "#33ee33"
GREY = "#3a3a3a"

LS_DOT = (0, (1, 2))
LS_LONG = (0, (9, 4.5))
LS_D3 = (0, (7, 2.5, 1, 2.5, 1, 2.5, 1, 2.5))
LS_DD = (0, (7, 2.5, 1, 2.5))
SLS_DASH = (0, (4, 3))
SLS_DD = (0, (5, 2, 1, 2))
SLS_D3 = (0, (5, 2, 1, 2, 1, 2, 1, 2))

SERIF = ['Liberation Serif', 'DejaVu Serif']
SHADOW = [pe.withSimplePatchShadow(offset=(4, -4), shadow_rgbFace='black', alpha=0.5)]


def xy(points):
    arr = np.array(points, dtype=float)
    return arr[:, 0], arr[:, 1]


def add_box(fig, l, t, r, b):
    return fig.add_axes([l / W, 1 - b / H, (r - l) / W, (b - t) / H])


def idl_axes(ax, big, ymaj, ymin_step, fmt, xlabels):
    ax.set_xlim(XMIN, XMAX)
    ax.xaxis.set_major_locator(MultipleLocator(2))
    ax.xaxis.set_minor_locator(MultipleLocator(0.5))
    ax.yaxis.set_major_locator(MultipleLocator(ymaj))
    ax.yaxis.set_minor_locator(MultipleLocator(ymin_step))
    ax.yaxis.set_major_formatter(FormatStrFormatter(fmt))
    if big:
        ax.tick_params(which="both", direction="in", top=True, right=True, width=2.2)
        ax.tick_params(which="major", length=18)
        ax.tick_params(which="minor", length=8.5)
        ax.tick_params(axis="y", labelsize=25, pad=9)
        ax.tick_params(axis="x", labelsize=24, pad=20)
        lw = 2.6
    else:
        ax.tick_params(which="both", direction="in", top=True, right=True, width=1.3)
        ax.tick_params(which="major", length=8.5)
        ax.tick_params(which="minor", length=4.3)
        ax.tick_params(axis="y", labelsize=12, pad=5.4)
        ax.tick_params(axis="x", labelsize=13, pad=11.5)
        lw = 1.6
    ax.tick_params(axis="x", labelbottom=xlabels)
    for s in ax.spines.values():
        s.set_linewidth(lw)


def draw_big(ax, data, model, curves):
    ax.errorbar(GRID, data, yerr=BIG_ERR, fmt='none', ecolor=GREEN, elinewidth=1.6, zorder=3)
    ax.plot(GRID, data, color='black', lw=1.4, zorder=4)
    for pts, color, ls, lw in curves:
        x, y = xy(pts)
        ax.plot(x, y, color=color, linestyle=ls, lw=lw, zorder=3.5)
    x, y = xy(model)
    ax.plot(x, y, color='black', lw=5, zorder=5, solid_capstyle='round')


def draw_small(ax, resid, err, model, curves):
    x, y = xy(resid)
    ax.errorbar(x, y, yerr=err, fmt='none', ecolor=GREY, elinewidth=1.0, zorder=3)
    ax.plot(x, y, drawstyle='steps-mid', color=GREY, lw=1.5, zorder=4)
    for pts, color, ls in curves:
        cx, cy = xy(pts)
        ax.plot(cx, cy, color=color, linestyle=ls, lw=1.3, zorder=3.5)
    mx, my = xy(model)
    ax.plot(mx, my, color='black', lw=2.8, zorder=5)


def title(ax, big, small, x):
    t2 = ax.text(x, 0.901, small, transform=ax.transAxes, ha='right', va='baseline',
                 fontsize=50, family=SERIF, weight='bold', path_effects=SHADOW, zorder=10)
    ax.annotate(big, xy=(0, 0), xycoords=t2, xytext=(-2, 10.8), textcoords='offset points',
                ha='right', va='baseline', fontsize=64, family=SERIF, weight='bold',
                path_effects=SHADOW, zorder=10)


def epoch(ax, text, y):
    ax.text(0.025, y, text, transform=ax.transAxes, ha='left', va='baseline', fontsize=58,
            family=SERIF, weight='bold', path_effects=SHADOW, zorder=10)


def big_legend(ax, entries, y):
    handles = [Line2D([], [], color=c, linestyle=ls, lw=lw) for _, c, ls, lw in entries]
    leg = ax.legend(handles, [e[0] for e in entries], loc='upper left', bbox_to_anchor=(0.014, y),
                    borderaxespad=0, fontsize=19, handlelength=4.8, handletextpad=0.7,
                    labelspacing=-0.02, borderpad=0.4, fancybox=False, framealpha=1,
                    edgecolor='black')
    leg.get_frame().set_linewidth(2.2)
    leg.set_zorder(8)


def small_legend(ax, second):
    entries = [("Residual Flux", GREY, '-', 1.5), (second, 'black', '-', 2.8),
               ("Alpha Quartz", PURPLE, SLS_DASH, 1.3), ("Small Amorphous Olivine", SBLUE, SLS_DASH, 1.3),
               ("Small Amorphous Pyroxene", SBLUE, SLS_DD, 1.3), ("Large Amorphous Olivine", RED, SLS_DASH, 1.3),
               ("Large Amorphous Pyroxene", RED, SLS_DD, 1.3), ("Forsterite", SGREEN, SLS_D3, 1.3),
               ("Crystalline Pyroxenes", SGREEN, SLS_DASH, 1.3)]
    handles = [Line2D([], [], color=c, linestyle=ls, lw=lw) for _, c, ls, lw in entries]
    leg = ax.legend(handles, [e[0] for e in entries], loc='upper left', bbox_to_anchor=(0.012, 0.972),
                    borderaxespad=0, fontsize=11, handlelength=4.0, handletextpad=0.8,
                    labelspacing=-0.15, borderpad=0.35, fancybox=False, framealpha=1,
                    edgecolor='black')
    leg.get_frame().set_linewidth(1.2)
    leg.set_zorder(8)


fig = plt.figure(figsize=(W / 100, H / 100), dpi=100, facecolor=BG)

# ---------------- large panels ----------------
big_specs = [
    (128.5, 1302, "DG", (-0.01, 5.425), 1, 0.2, '%d', -0.053),
    (2182, 3359, "XZ", (-0.006, 3.49), 0.5, 0.1, '%.1f', -0.082),
]
big_data = {
    "DG": [(DG06_DATA, DG06_MODEL, [(DG06_RJ, ORANGE, LS_DOT, 2.2), (DG06_THICK_WARM, RED, LS_LONG, 2.4),
                                    (DG06_THICK_COOL, BLUE, LS_LONG, 2.4), (DG06_THIN_WARM, RED, LS_D3, 2.4),
                                    (DG06_THIN_COOL, BLUE, LS_D3, 2.4)]),
           (DG04_DATA, DG04_MODEL, [(DG04_RJ, ORANGE, LS_DOT, 2.2), (DG04_THICK_WARM, RED, LS_LONG, 2.4),
                                    (DG04_THICK_COOL, BLUE, LS_LONG, 2.4), (DG04_THIN, RED, LS_D3, 2.4),
                                    (DG04_ABS, GREEN, LS_DD, 2.4)])],
    "XZ": [(XZ06_DATA, XZ06_MODEL, [(XZ06_RJ, ORANGE, LS_DOT, 2.2), (XZ06_THICK_WARM, RED, LS_LONG, 2.4),
                                    (XZ06_THICK_COOL, BLUE, LS_LONG, 2.4), (XZ06_THIN_WARM, RED, LS_D3, 2.4),
                                    (XZ06_THIN_COOL, BLUE, LS_D3, 2.4)]),
           (XZ04_DATA, XZ04_MODEL, [(XZ04_RJ, ORANGE, LS_DOT, 2.2), (XZ04_THICK_WARM, RED, LS_LONG, 2.4),
                                    (XZ04_THICK_COOL, BLUE, LS_LONG, 2.4), (XZ04_THIN, RED, LS_D3, 2.4),
                                    (XZ04_ABS, GREEN, LS_DD, 2.4)])],
}
bottom_ylim = {"DG": (-0.01, 4.36), "XZ": (-0.006, 3.53)}

# tick labels sitting on a shared panel edge are nudged off it, as in the original
edge_fix = []

for l, r, star, ylim_top, ymaj, ymin_step, fmt, ylab_x in big_specs:
    ax_top = add_box(fig, l, 59, r, 927)
    ax_bot = add_box(fig, l, 927, r, 1797)
    for k, ax in enumerate([ax_top, ax_bot]):
        data, model, curves = big_data[star][k]
        draw_big(ax, data, model, curves)
        idl_axes(ax, True, ymaj, ymin_step, fmt, xlabels=(k == 1))
        ax.set_ylim(ylim_top if k == 0 else bottom_ylim[star])
        ax.set_ylabel("Flux density [Jy]", fontsize=24)
        ax.yaxis.set_label_coords(ylab_x, 0.5)
    edge_fix.append((ax_top, 0.0, 'bottom'))
    edge_fix.append((ax_bot, 3.5, 'top'))
    ax_bot.set_xlabel(r"Wavelength [$\mu$m]", fontsize=24)
    ax_bot.xaxis.set_label_coords(0.5, -0.085)
    epoch(ax_top, "2006-03", 0.036)
    epoch(ax_bot, "2004-03", 0.039)
    if star == "DG":
        title(ax_top, "DG T", "AU", 0.974)
        big_legend(ax_top, [("Data", 'black', '-', 1.4), ("Model", 'black', '-', 5),
                            ("R-J Tail", ORANGE, LS_DOT, 2.2),
                            ("Optically Thick Region (Warm)", RED, LS_LONG, 2.4),
                            ("Optically Thick Region (Cool)", BLUE, LS_LONG, 2.4),
                            ("Optically Thin Emission (Warm)", RED, LS_D3, 2.4),
                            ("Optically Thin Emission (Cool)", BLUE, LS_D3, 2.4)], 0.972)
        big_legend(ax_bot, [("Data", 'black', '-', 1.4), ("Model", 'black', '-', 5),
                            ("R-J Tail", ORANGE, LS_DOT, 2.2),
                            ("Optically Thick Region (Warm)", RED, LS_LONG, 2.4),
                            ("Optically Thick Region (Cool)", BLUE, LS_LONG, 2.4),
                            ("Optically Thin Emission", RED, LS_D3, 2.4),
                            ("Absorbing Material (Optical Depth)", GREEN, LS_DD, 2.4)], 0.970)
    else:
        title(ax_top, "XZ T", "AU", 0.969)

# ---------------- residual panels ----------------
dg_small = [
    (DGS1_RESID, DGS1_MODEL, [(DGS1_AQ, PURPLE, SLS_DASH), (DGS1_SAO, SBLUE, SLS_DASH),
                              (DGS1_FORS, SGREEN, SLS_D3), (DGS1_CPYR, SGREEN, SLS_DASH)],
     (-0.008, 0.61), 0.1, 0.02, '%.1f'),
    (DGS2_RESID, DGS2_MODEL, [(DGS2_AQ, PURPLE, SLS_DASH), (DGS2_SAO, SBLUE, SLS_DASH),
                              (DGS2_FORS, SGREEN, SLS_D3), (DGS2_CPYR, SGREEN, SLS_DASH)],
     (-0.005, 0.49), 0.1, 0.02, '%.1f'),
    (DGS3_RESID, DGS3_MODEL, [(DGS3_AQ, PURPLE, SLS_DASH), (DGS3_SAO, SBLUE, SLS_DASH),
                              (DGS3_FORS, SGREEN, SLS_D3), (DGS3_CPYR, SGREEN, SLS_DASH)],
     (-0.011, 0.744), 0.2, 0.05, '%.1f'),
    (DGS4_RESID, DGS4_MODEL, [(DGS4_SAO, SBLUE, SLS_DASH), (DGS4_FORS, SGREEN, SLS_D3),
                              (DGS4_CPYR, SGREEN, SLS_DASH)],
     (-0.002, 0.171), 0.05, 0.01, '%.2f'),
]
xz_small = [
    (XZS1_RESID, XZS1_MODEL, [(XZS1_AQ, PURPLE, SLS_DASH), (XZS1_SAO, SBLUE, SLS_DASH),
                              (XZS1_SAP, SBLUE, SLS_DD)],
     (-0.0045, 0.607), 0.1, 0.02, '%.1f'),
    (XZS2_RESID, XZS2_MODEL, [(XZS2_SAO, SBLUE, SLS_DASH), (XZS2_SAP, SBLUE, SLS_DD)],
     (-0.004, 0.462), 0.1, 0.02, '%.1f'),
    (XZS3_RESID, XZS3_MODEL, [(XZS3_SAP, SBLUE, SLS_DD), (XZS3_LAO, RED, SLS_DASH)],
     (-0.0085, 0.583), 0.1, 0.02, '%.1f'),
    (XZS4_RESID, XZS4_MODEL, [(XZS4_SAO, SBLUE, SLS_DASH), (XZS4_SAP, SBLUE, SLS_DD),
                              (XZS4_FORS, SGREEN, SLS_D3), (XZS4_CPYR, SGREEN, SLS_DASH)],
     (-0.0036, 0.255), 0.05, 0.01, '%.2f'),
]

panel_h = (1797 - 59) / 4.0
for l, r, panels, errs, ylab_x, is_dg in [(1384, 1972, dg_small, DG_RESID_ERR, -0.085, True),
                                           (3436, 4027, xz_small, XZ_RESID_ERR, -0.078, False)]:
    for i, (resid, model, curves, ylim, ymaj, ymin_step, fmt) in enumerate(panels):
        t = 59 + i * panel_h
        ax = add_box(fig, l, t, r, t + panel_h)
        draw_small(ax, resid, errs[i], model, curves)
        idl_axes(ax, False, ymaj, ymin_step, fmt, xlabels=(i == 3))
        ax.set_ylim(ylim)
        if i < 3:
            ax.set_ylabel("Flux density [Jy]", fontsize=11.5)
            ax.yaxis.set_label_coords(ylab_x, 0.5)
        else:
            ax.set_ylabel(r"$\tau_\nu$", fontsize=12)
            ax.yaxis.set_label_coords(ylab_x - 0.012, 0.5)
            ax.set_xlabel(r"Wavelength [$\mu$m]", fontsize=13)
            ax.xaxis.set_label_coords(0.5, -0.083)
            if not is_dg:
                edge_fix.append((ax, 0.25, 'top'))
        if is_dg:
            small_legend(ax, "Absorption Component" if i == 3 else "Optically Thin Emission (Cool)")

fig.canvas.draw()
for ax, val, va in edge_fix:
    for loc, tick in zip(ax.yaxis.get_majorticklocs(), ax.yaxis.get_major_ticks()):
        if abs(loc - val) < 1e-6:
            tick.label1.set_verticalalignment(va)

fig.savefig("out.png", dpi=100, facecolor=BG)
